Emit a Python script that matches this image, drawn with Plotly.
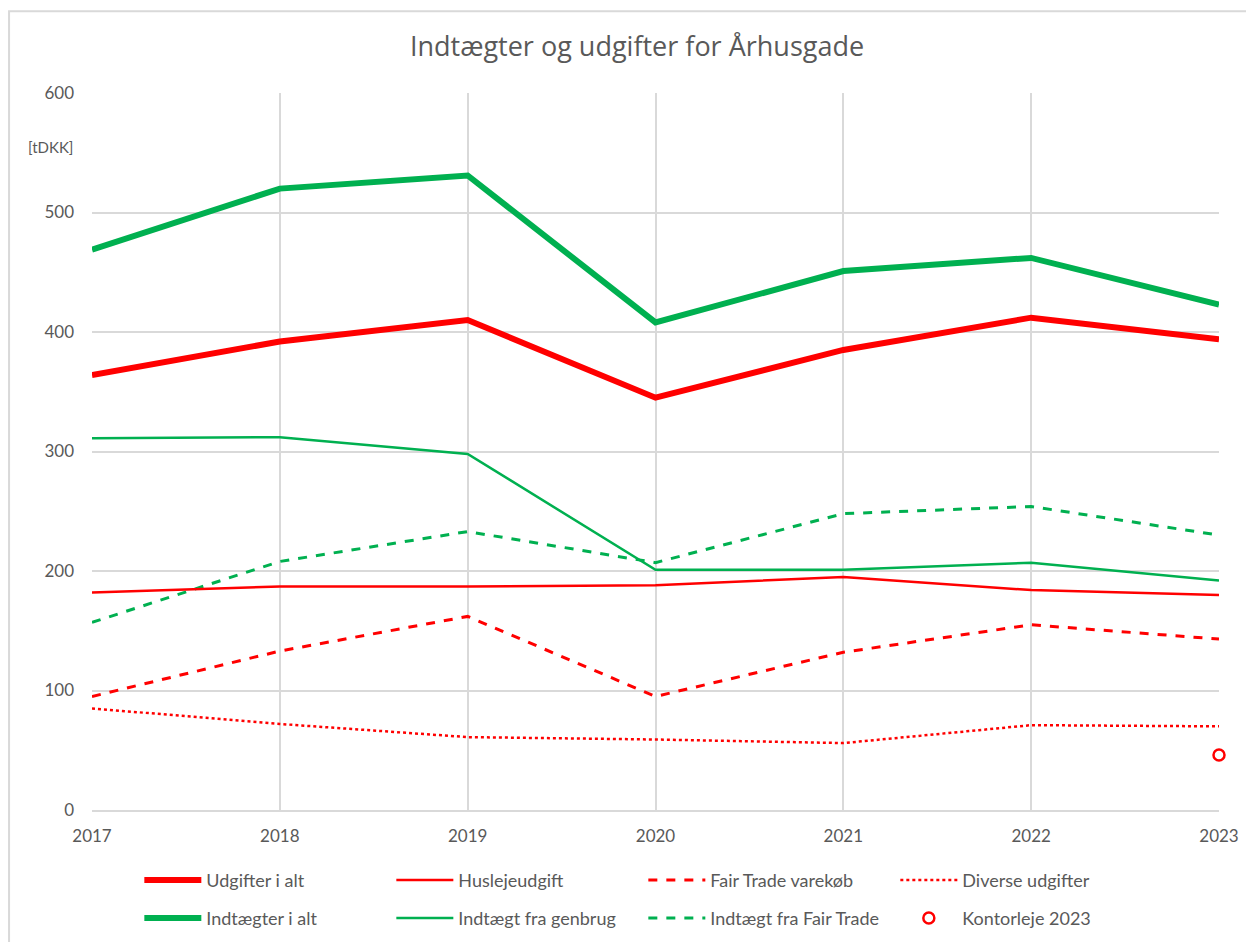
import plotly.graph_objects as go

years = [2017, 2018, 2019, 2020, 2021, 2022, 2023]

udgifter_i_alt = [364, 392, 410, 345, 385, 412, 394]
huslejeudgift = [182, 187, 187, 188, 195, 184, 180]
fair_trade_varekoeb = [95, 133, 162, 95, 132, 155, 143]
diverse_udgifter = [85, 72, 61, 59, 56, 71, 70]

indtaegter_i_alt = [469, 520, 531, 408, 451, 462, 423]
indtaegt_genbrug = [311, 312, 298, 201, 201, 207, 192]
indtaegt_fair_trade = [157, 208, 233, 207, 248, 254, 230]

kontorleje_year = [2023]
kontorleje_value = [46]

RED = "#FF0000"
GREEN = "#00B050"
GREY = "#595959"
GRID = "#D9D9D9"

fig = go.Figure()

# drawn back to front; legend position set per legend
fig.add_trace(go.Scatter(x=years, y=diverse_udgifter, name="Diverse udgifter", mode="lines",
                         line=dict(color=RED, width=2.5, dash="dot"), legend="legend", legendrank=4))
fig.add_trace(go.Scatter(x=years, y=fair_trade_varekoeb, name="Fair Trade varekøb", mode="lines",
                         line=dict(color=RED, width=3, dash="dash"), legend="legend", legendrank=3))
fig.add_trace(go.Scatter(x=years, y=indtaegt_fair_trade, name="Indtægt fra Fair Trade", mode="lines",
                         line=dict(color=GREEN, width=3, dash="dash"), legend="legend2", legendrank=3))
fig.add_trace(go.Scatter(x=years, y=huslejeudgift, name="Huslejeudgift", mode="lines",
                         line=dict(color=RED, width=2.5), legend="legend", legendrank=2))
fig.add_trace(go.Scatter(x=years, y=indtaegt_genbrug, name="Indtægt fra genbrug", mode="lines",
                         line=dict(color=GREEN, width=2.5), legend="legend2", legendrank=2))
fig.add_trace(go.Scatter(x=years, y=udgifter_i_alt, name="Udgifter i alt", mode="lines",
                         line=dict(color=RED, width=6), legend="legend", legendrank=1))
fig.add_trace(go.Scatter(x=years, y=indtaegter_i_alt, name="Indtægter i alt", mode="lines",
                         line=dict(color=GREEN, width=6), legend="legend2", legendrank=1))
fig.add_trace(go.Scatter(x=kontorleje_year, y=kontorleje_value, name="Kontorleje 2023", mode="markers",
                         marker=dict(symbol="circle-open", color=RED, size=11, line=dict(width=2.5)),
                         legend="legend2", legendrank=4, cliponaxis=False))

legend_common = dict(orientation="h", xanchor="left", yanchor="middle", x=0.042,
                     entrywidth=180, entrywidthmode="pixels", itemwidth=57,
                     font=dict(family="Lato, sans-serif", size=18, color=GREY),
                     bgcolor="rgba(0,0,0,0)", traceorder="normal")

fig.update_layout(
    width=1254, height=942,
    margin=dict(l=84, r=43, t=85, b=140, autoexpand=False),
    paper_bgcolor="white", plot_bgcolor="white",
    title=dict(text="Indtægter og udgifter for Århusgade", x=(637 - 8) / 1254, xanchor="center",
               y=1 - 39 / 942, yanchor="middle",
               font=dict(family="Open Sans, sans-serif", size=27, color=GREY)),
    xaxis=dict(range=[2017, 2023], tickvals=years, showgrid=True, gridcolor=GRID, gridwidth=2,
               showline=True, linecolor=GRID, linewidth=2, zeroline=False, ticks="",
               ticklabelstandoff=10,
               tickfont=dict(family="Lato, sans-serif", size=17, color=GREY)),
    yaxis=dict(range=[0, 600], dtick=100, showgrid=True, gridcolor=GRID, gridwidth=2,
               zeroline=False, showline=False, ticks="", ticklabelstandoff=17,
               tickfont=dict(family="Lato, sans-serif", size=17, color=GREY)),
    legend=dict(legend_common, y=-0.098),
    legend2=dict(legend_common, y=-0.151),
    showlegend=True,
)

fig.add_annotation(text="[tDKK]", xref="paper", yref="paper", x=-0.015, y=0.924,
                   xanchor="right", yanchor="middle", showarrow=False,
                   font=dict(family="Lato, sans-serif", size=15, color=GREY))

fig.add_shape(type="rect", xref="paper", yref="paper", x0=-0.0736, x1=1.04, y0=-0.2, y1=1.114,
              line=dict(color=GRID, width=2), fillcolor="rgba(0,0,0,0)", layer="below")

fig.write_html("out.html")
